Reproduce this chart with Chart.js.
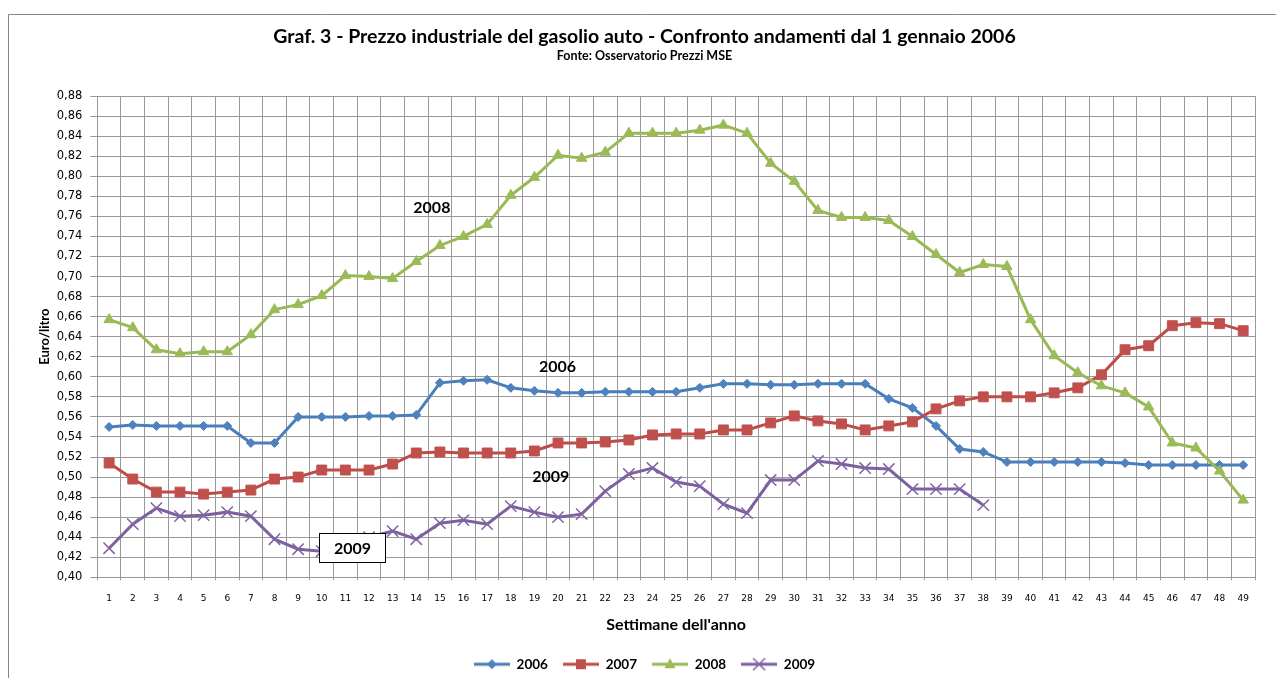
<!DOCTYPE html>
<html>
<head>
<meta charset="utf-8">
<title>Prezzo industriale del gasolio auto</title>
<script src="https://cdn.jsdelivr.net/npm/chart.js@4.4.0/dist/chart.umd.min.js"></script>
<style>
  html, body { margin: 0; padding: 0; background: #fff; }
</style>
</head>
<body>
<canvas id="chart" width="1276" height="678"></canvas>
<script>
// weeks of the year
const weeks = ['1', '2', '3', '4', '5', '6', '7', '8', '9', '10',
  '11', '12', '13', '14', '15', '16', '17', '18', '19', '20',
  '21', '22', '23', '24', '25', '26', '27', '28', '29', '30',
  '31', '32', '33', '34', '35', '36', '37', '38', '39', '40',
  '41', '42', '43', '44', '45', '46', '47', '48', '49'];

// Euro/litro
const prices2006 = [0.550, 0.552, 0.551, 0.551, 0.551, 0.551, 0.534, 0.534, 0.560, 0.560,
  0.560, 0.561, 0.561, 0.562, 0.594, 0.596, 0.597, 0.589, 0.586, 0.584,
  0.584, 0.585, 0.585, 0.585, 0.585, 0.589, 0.593, 0.593, 0.592, 0.592,
  0.593, 0.593, 0.593, 0.578, 0.569, 0.551, 0.528, 0.525, 0.515, 0.515,
  0.515, 0.515, 0.515, 0.514, 0.512, 0.512, 0.512, 0.512, 0.512];

const prices2007 = [0.514, 0.498, 0.485, 0.485, 0.483, 0.485, 0.487, 0.498, 0.500, 0.507,
  0.507, 0.507, 0.513, 0.524, 0.525, 0.524, 0.524, 0.524, 0.526, 0.534,
  0.534, 0.535, 0.537, 0.542, 0.543, 0.543, 0.547, 0.547, 0.554, 0.561,
  0.556, 0.553, 0.547, 0.551, 0.555, 0.568, 0.576, 0.580, 0.580, 0.580,
  0.584, 0.589, 0.602, 0.627, 0.631, 0.651, 0.654, 0.653, 0.646];

const prices2008 = [0.657, 0.649, 0.627, 0.623, 0.625, 0.625, 0.642, 0.667, 0.672, 0.681,
  0.701, 0.700, 0.698, 0.715, 0.731, 0.740, 0.752, 0.781, 0.799, 0.821,
  0.818, 0.824, 0.843, 0.843, 0.843, 0.846, 0.851, 0.843, 0.813, 0.795,
  0.766, 0.759, 0.759, 0.756, 0.740, 0.722, 0.704, 0.712, 0.710, 0.657,
  0.621, 0.604, 0.591, 0.584, 0.570, 0.534, 0.529, 0.506, 0.477];

const prices2009 = [0.429, 0.453, 0.469, 0.461, 0.462, 0.465, 0.461, 0.438, 0.428, 0.426,
  0.428, 0.440, 0.446, 0.438, 0.454, 0.457, 0.453, 0.471, 0.465, 0.460,
  0.463, 0.486, 0.503, 0.509, 0.495, 0.491, 0.473, 0.464, 0.497, 0.497,
  0.516, 0.513, 0.509, 0.508, 0.488, 0.488, 0.488, 0.472];

// text labels placed on the plot (week, price)
const noteText = ['2008', '2006', '2009'];
const noteWeek = [14.66, 19.98, 19.69];
const notePrice = [0.769, 0.6095, 0.5005];
const boxedText = '2009';
const boxedWeek = 11.28;
const boxedPrice = 0.4295;

const yMin = 0.40, yMax = 0.88, yStep = 0.02;

const FONT = 'Lato, "Open Sans", sans-serif';
const TICK_FONT = '"DejaVu Sans", Verdana, sans-serif';
const gridColor = '#999999';

// small line + marker picture for each legend entry
function swatch(lineColor, fillColor, marker) {
  const c = document.createElement('canvas');
  c.width = 36; c.height = 18;
  const g = c.getContext('2d');
  const cx = 18, cy = 9;
  g.strokeStyle = lineColor;
  g.lineWidth = 3;
  g.beginPath(); g.moveTo(0, cy); g.lineTo(36, cy); g.stroke();
  g.fillStyle = fillColor;
  g.strokeStyle = fillColor;
  g.beginPath();
  if (marker === 'diamond') {
    g.moveTo(cx, cy - 5); g.lineTo(cx + 5, cy); g.lineTo(cx, cy + 5); g.lineTo(cx - 5, cy);
    g.closePath(); g.fill();
  } else if (marker === 'square') {
    g.fillRect(cx - 5, cy - 5, 10, 10);
  } else if (marker === 'triangle') {
    g.moveTo(cx, cy - 6); g.lineTo(cx + 5.5, cy + 4); g.lineTo(cx - 5.5, cy + 4);
    g.closePath(); g.fill();
  } else {
    g.lineWidth = 1.5;
    g.moveTo(cx - 6, cy - 6); g.lineTo(cx + 6, cy + 6);
    g.moveTo(cx + 6, cy - 6); g.lineTo(cx - 6, cy + 6);
    g.stroke();
  }
  return c;
}

const swatches = [
  swatch('#4A7EBB', '#4F81BD', 'diamond'),
  swatch('#BE4B48', '#C0504D', 'square'),
  swatch('#98B954', '#9BBB59', 'triangle'),
  swatch('#7D60A0', '#8064A2', 'cross')
];

// outer frame of the picture
const framePlugin = {
  id: 'frame',
  beforeDraw(chart) {
    const ctx = chart.ctx;
    ctx.save();
    ctx.fillStyle = '#fff';
    ctx.fillRect(0, 0, chart.width, chart.height);
    ctx.strokeStyle = '#868686';
    ctx.lineWidth = 1;
    ctx.beginPath();
    ctx.moveTo(8.5, chart.height);
    ctx.lineTo(8.5, 14.5);
    ctx.lineTo(chart.width, 14.5);
    ctx.stroke();
    ctx.restore();
  }
};

// year labels written on the plot
const notesPlugin = {
  id: 'notes',
  afterDatasetsDraw(chart) {
    const { ctx, scales: { x, y } } = chart;
    ctx.save();
    ctx.font = 'bold 16px ' + FONT;
    ctx.fillStyle = '#000';
    ctx.textAlign = 'center';
    ctx.textBaseline = 'middle';
    noteText.forEach((t, i) => {
      ctx.fillText(t, x.getPixelForValue(noteWeek[i] - 1), y.getPixelForValue(notePrice[i]));
    });
    const bx = Math.round(x.getPixelForValue(boxedWeek - 1));
    const by = Math.round(y.getPixelForValue(boxedPrice));
    ctx.fillStyle = '#fff';
    ctx.fillRect(bx - 33, by - 15, 67, 30);
    ctx.strokeStyle = '#000';
    ctx.lineWidth = 1;
    ctx.strokeRect(bx - 32.5, by - 14.5, 66, 29);
    ctx.fillStyle = '#000';
    ctx.fillText(boxedText, bx + 0.5, by + 1);
    ctx.restore();
  }
};

function series(label, data, line, fill, style, radius, order) {
  return {
    label,
    data,
    order,
    borderColor: line,
    backgroundColor: fill,
    borderWidth: 3,
    pointStyle: style,
    pointRadius: radius,
    pointHoverRadius: radius,
    pointBorderColor: fill,
    pointBackgroundColor: fill,
    pointBorderWidth: style === 'crossRot' ? 1.5 : 1,
    tension: 0
  };
}

new Chart(document.getElementById('chart'), {
  type: 'line',
  data: {
    labels: weeks,
    datasets: [
      series('2006', prices2006, '#4A7EBB', '#4F81BD', 'rectRot', 4.5, 4),
      series('2007', prices2007, '#BE4B48', '#C0504D', 'rect', 7, 3),
      series('2008', prices2008, '#98B954', '#9BBB59', 'triangle', 6, 2),
      series('2009', prices2009, '#7D60A0', '#8064A2', 'crossRot', 8, 1)
    ]
  },
  options: {
    responsive: false,
    animation: false,
    devicePixelRatio: 1,
    layout: {
      padding: { left: 34, right: 21, top: 0, bottom: -3 }
    },
    plugins: {
      title: {
        display: true,
        text: 'Graf. 3 - Prezzo industriale del gasolio auto - Confronto andamenti dal 1 gennaio 2006',
        color: '#000',
        font: { family: FONT, size: 19.5, weight: 'bold' },
        padding: { top: 25.3, bottom: 0 }
      },
      subtitle: {
        display: true,
        text: 'Fonte: Osservatorio Prezzi MSE',
        color: '#000',
        font: { family: FONT, size: 12.5, weight: 'bold' },
        padding: { top: 0, bottom: 32.4 }
      },
      legend: {
        position: 'bottom',
        labels: {
          usePointStyle: true,
          pointStyleWidth: 36,
          padding: 15,
          color: '#000',
          font: { family: FONT, size: 13.5, weight: 'bold' },
          sort: (a, b) => a.datasetIndex - b.datasetIndex,
          generateLabels(chart) {
            const items = Chart.defaults.plugins.legend.labels.generateLabels(chart);
            items.forEach((it) => { it.pointStyle = swatches[it.datasetIndex]; });
            return items;
          }
        }
      },
      tooltip: { enabled: false }
    },
    scales: {
      x: {
        offset: true,
        grid: {
          offset: true,
          color: gridColor,
          lineWidth: 1,
          tickLength: 3
        },
        border: { color: gridColor },
        ticks: {
          color: '#000',
          font: { family: TICK_FONT, size: 9 },
          padding: 12.7,
          maxRotation: 0,
          autoSkip: false
        },
        title: {
          display: true,
          text: "Settimane dell'anno",
          color: '#000',
          font: { family: FONT, size: 16, weight: 'bold' },
          padding: { top: 4, bottom: 7.9 }
        },
        afterFit(scale) { scale.height = 65.2; }
      },
      y: {
        min: yMin,
        max: yMax,
        grid: {
          color: gridColor,
          lineWidth: 1,
          tickLength: 7
        },
        border: { color: gridColor },
        ticks: {
          stepSize: yStep,
          color: '#000',
          font: { family: TICK_FONT, size: 11.5 },
          padding: 8,
          callback: (v) => v.toFixed(2).replace('.', ',')
        },
        title: {
          display: true,
          text: 'Euro/litro',
          color: '#000',
          font: { family: FONT, size: 13, weight: 'bold' },
          padding: { top: 3.2, bottom: 0 }
        },
        afterFit(scale) { scale.width = 63.3; }
      }
    }
  },
  plugins: [framePlugin, notesPlugin]
});
</script>
</body>
</html>
